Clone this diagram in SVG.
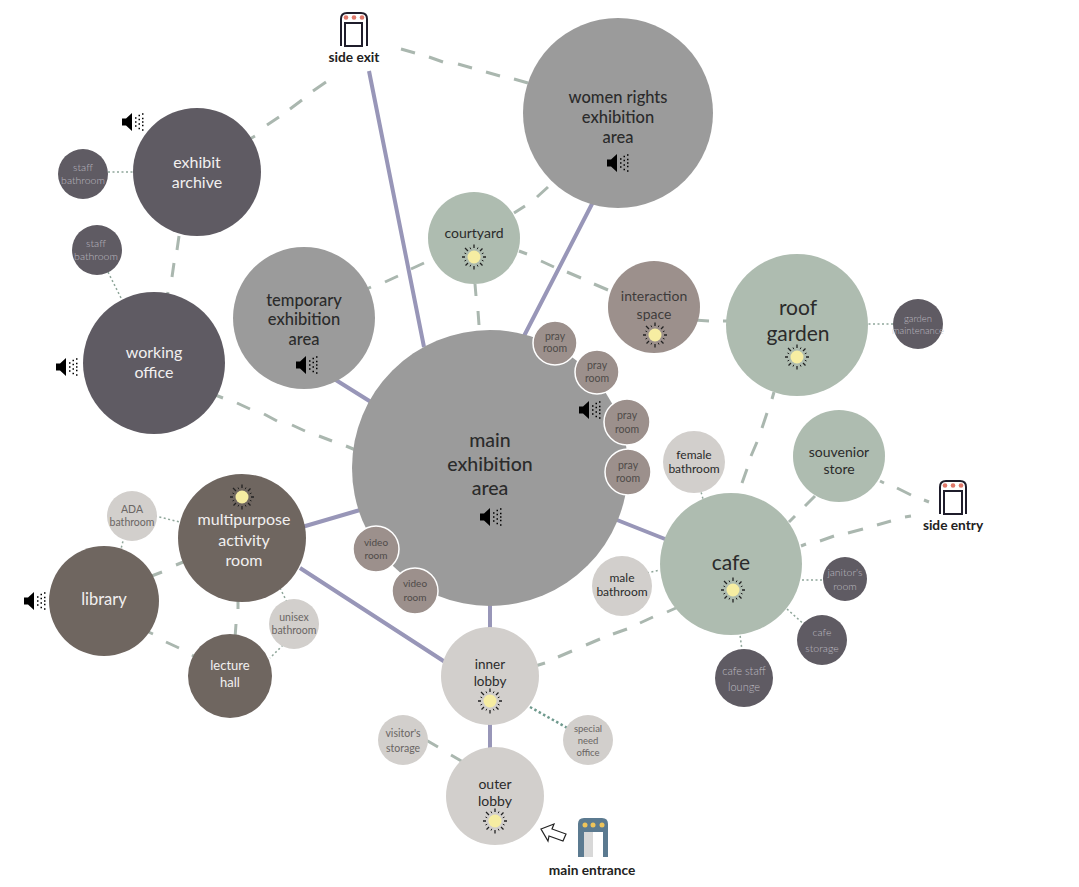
<svg xmlns="http://www.w3.org/2000/svg" width="1079" height="887" viewBox="0 0 1079 887">
<style>
text{font-family:Lato,"Open Sans","Liberation Sans",sans-serif;text-anchor:middle}
.g{fill:#9b9b9b}.s{fill:#aebcb0}.d{fill:#5f5b63}.b{fill:#6f6660}.t{fill:#9c908c}.l{fill:#d2cfcc}
.w{stroke:#fff;stroke-width:1.5}
.dk{fill:#2b2b2b}.lt{fill:#f2f0f0}.sm{font-size:10.5px}
.faint{fill:#bdbac0;font-weight:300}.mut{fill:#6a6664;font-weight:400}.pr{fill:#4f4b49;font-weight:400}
.lb{font-weight:700;font-size:13.700px;fill:#222}
.p{stroke:#9896b8;stroke-width:4;fill:none}
.da{stroke:#aab7af;stroke-width:3;fill:none}
.do{stroke:#8fa69a;stroke-width:1.500;fill:none;stroke-dasharray:2 2.500}
.dt{stroke:#6f9a8e;stroke-width:2.500;fill:none;stroke-dasharray:2.500 2.500}
</style>
<defs>
<g id="sun"><path d="M0-12.500V-9M0 9V12.500M-12 0H-9M9 0H12M-9-9L-6-6M6-6L8.500-8.500M-8.500 8.500L-6 6M6 6L8.500 8.500" stroke="#222" stroke-width="1.300" fill="none"/><path d="M-4-9.500L-3.200-7.800M4-9.500L3.200-7.800M-4 9.500L-3.200 7.800M4 9.500L3.200 7.800M-9.500-4L-7.800-3.200M9.500-4L7.800-3.200M-9.500 4L-7.800 3.200M9.500 4L7.800 3.200" stroke="#222" stroke-width="1" fill="none"/><circle r="6.500" fill="#f6eda2"/></g>
<g id="spk"><path d="M-11-3.500H-7L-1-9V9L-7 3.500H-11Z" fill="#000"/><path d="M2-4h1.500M2 0h1.500M2 4h1.500M5.500-6.500h1.500M5.500-2.500h1.500M5.500 2h1.500M5.500 6.500h1.500M9-8h1.500M9-3.500h1.500M9 0h1.500M9 3.500h1.500M9 8h1.500" stroke="#000" stroke-width="1.500" fill="none"/></g>
</defs>
<g id="connectors">
<path class="p" d="M369 71L424 347M593 202L524 336M331 377L371 402M302 527L360 510M612 518L670 541M490 600V636M300 568L445 662M490 712V754"/>
<path class="da" d="M243 143L255 136M267 125L279 117M290 109L302 100M313 91L326 82M401 49L415 53M429 57L443 62M458 64L472 68M486 72L500 76M514 79L528 83M358 293L371 287M385 282L398 276M411 269L424 263M514 213L525 206M537 197L548 187M475 284L476 296M478 311L479 325M519 251L527 254M541 261L554 267M567 272L581 278M594 284L608 290M694 320L709 321M723 321L727 321M774 392L772 399M767 413L762 428M757 442L751 456M747 469L742 483M815 496L805 506M795 516L789 522M880 481L884 483M897 488L911 495M924 500L929 502M801 546L806 544M820 541L834 536M848 533L863 529M877 525L891 521M905 517L911 516M210 393L223 398M237 403L250 409M264 414L277 421M292 425L305 431M319 436L332 441M346 446L358 451M188 560L176 565M162 572L149 577M140 628L153 634M166 642L179 648M192 655L200 660M238 595L238 609M236 624L235 638M532 667L545 663M558 657L572 651M586 645L600 639M613 634L627 629M640 623L653 617M667 612L676 608M179 236L177 250M174 263L172 277M168 292L165 306M426 740L438 747M451 755L463 762"/>
<path class="do" d="M108 172H133M106 268L124 304M155 516L180 522M124 537L119 557M280 588L288 604M283 645L270 658M700 488L703 499M893 324H866M647 573L660 570M793 580H823M787 609L807 627M739 627L743 658"/>
<path class="dt" d="M530 707L571 730"/>
</g>
<g id="n-main"><circle class="g" cx="490" cy="468" r="138"/><text class="dk" font-size="19.500" font-weight="500"><tspan x="490" y="447">main</tspan><tspan x="490" y="471">exhibition</tspan><tspan x="490" y="495">area</tspan></text><use href="#spk" x="491" y="517"/></g>
<g id="n-women"><circle class="g" cx="618" cy="113" r="95"/><text class="dk" font-size="16.500" font-weight="500"><tspan x="618" y="103">women rights</tspan><tspan x="618" y="123">exhibition</tspan><tspan x="618" y="143">area</tspan></text><use href="#spk" x="618" y="163"/></g>
<g id="n-courtyard"><circle class="s" cx="474" cy="238" r="46"/><text class="dk" x="474" y="238" font-size="14">courtyard</text><use href="#sun" x="474" y="257"/></g>
<g id="n-temporary"><circle class="g" cx="304" cy="318" r="71"/><text class="dk" font-size="16.500" font-weight="500"><tspan x="304" y="306">temporary</tspan><tspan x="304" y="325">exhibition</tspan><tspan x="304" y="345">area</tspan></text><use href="#spk" x="307" y="365"/></g>
<g id="n-archive"><circle class="d" cx="197" cy="172" r="64"/><text class="lt" font-size="16"><tspan x="197" y="168">exhibit</tspan><tspan x="197" y="188">archive</tspan></text><use href="#spk" x="133" y="122"/></g>
<g id="n-staff1"><circle class="d" cx="83" cy="174" r="25"/><text class="faint sm"><tspan x="83" y="171">staff</tspan><tspan x="83" y="184">bathroom</tspan></text></g>
<g id="n-staff2"><circle class="d" cx="97" cy="250" r="25"/><text class="faint sm"><tspan x="96" y="247">staff</tspan><tspan x="96" y="260">bathroom</tspan></text></g>
<g id="n-office"><circle class="d" cx="154" cy="363" r="71"/><text class="lt" font-size="16"><tspan x="154" y="358">working</tspan><tspan x="154" y="378">office</tspan></text><use href="#spk" x="67" y="367"/></g>
<g id="n-interaction"><circle class="t" cx="654" cy="307" r="46"/><text class="dk" font-size="14" fill-opacity=".85"><tspan x="654" y="301">interaction</tspan><tspan x="654" y="319">space</tspan></text><use href="#sun" x="655" y="335"/></g>
<g id="n-roof"><circle class="s" cx="797" cy="325" r="71"/><text class="dk" font-size="21"><tspan x="798" y="315">roof</tspan><tspan x="798" y="341">garden</tspan></text><use href="#sun" x="797" y="357"/></g>
<g id="n-garden"><circle class="d" cx="918" cy="324" r="25"/><text class="faint" font-size="9.500"><tspan x="918" y="322">garden</tspan><tspan x="918" y="334">maintenance</tspan></text></g>
<g id="n-pray1"><circle class="t w" cx="555" cy="343" r="22"/><text class="pr sm"><tspan x="555" y="340">pray</tspan><tspan x="555" y="352">room</tspan></text></g>
<g id="n-pray2"><circle class="t w" cx="597" cy="372" r="22"/><text class="pr sm"><tspan x="597" y="369">pray</tspan><tspan x="597" y="382">room</tspan></text></g>
<g id="n-pray3"><circle class="t w" cx="627" cy="422" r="23"/><text class="pr sm"><tspan x="627" y="419">pray</tspan><tspan x="627" y="433">room</tspan></text><use href="#spk" x="590" y="410"/></g>
<g id="n-pray4"><circle class="t w" cx="628" cy="472" r="23"/><text class="pr sm"><tspan x="628" y="469">pray</tspan><tspan x="628" y="482">room</tspan></text></g>
<g id="n-female"><circle class="l" cx="694" cy="462" r="31"/><text class="dk" font-size="12"><tspan x="694" y="459">female</tspan><tspan x="694" y="473">bathroom</tspan></text></g>
<g id="n-souvenir"><circle class="s" cx="839" cy="456" r="46"/><text class="dk" font-size="14"><tspan x="839" y="457">souvenior</tspan><tspan x="839" y="474">store</tspan></text></g>
<g id="n-cafe"><circle class="s" cx="731" cy="564" r="71"/><text class="dk" x="731" y="570" font-size="21">cafe</text><use href="#sun" x="733" y="590"/></g>
<g id="n-male"><circle class="l" cx="622" cy="586" r="30"/><text class="dk" font-size="12"><tspan x="622" y="582">male</tspan><tspan x="622" y="596">bathroom</tspan></text></g>
<g id="n-janitor"><circle class="d" cx="845" cy="579" r="22"/><text class="faint sm"><tspan x="845" y="576">janitor's</tspan><tspan x="845" y="590">room</tspan></text></g>
<g id="n-storage"><circle class="d" cx="822" cy="640" r="25"/><text class="faint sm"><tspan x="822" y="636">cafe</tspan><tspan x="822" y="652">storage</tspan></text></g>
<g id="n-lounge"><circle class="d" cx="744" cy="678" r="29"/><text class="faint" font-size="11"><tspan x="744" y="675">cafe staff</tspan><tspan x="744" y="691">lounge</tspan></text></g>
<g id="n-multi"><circle class="b" cx="242" cy="538" r="64"/><text class="lt" font-size="16"><tspan x="244" y="525">multipurpose</tspan><tspan x="244" y="546">activity</tspan><tspan x="244" y="566">room</tspan></text><use href="#sun" x="242" y="497"/></g>
<g id="n-ada"><circle class="l" cx="132" cy="516" r="25"/><text class="mut sm"><tspan x="132" y="513">ADA</tspan><tspan x="132" y="526">bathroom</tspan></text></g>
<g id="n-library"><circle class="b" cx="104" cy="601" r="55"/><text class="lt" x="104" y="605" font-size="16.500">library</text><use href="#spk" x="35" y="601"/></g>
<g id="n-lecture"><circle class="b" cx="230" cy="676" r="42"/><text class="lt" font-size="13"><tspan x="230" y="670">lecture</tspan><tspan x="230" y="687">hall</tspan></text></g>
<g id="n-unisex"><circle class="l" cx="294" cy="624" r="25"/><text class="mut sm"><tspan x="294" y="621">unisex</tspan><tspan x="294" y="634">bathroom</tspan></text></g>
<g id="n-video1"><circle class="t w" cx="376" cy="549" r="23"/><text class="pr" font-size="10"><tspan x="376" y="546">video</tspan><tspan x="376" y="559">room</tspan></text></g>
<g id="n-video2"><circle class="t w" cx="415" cy="591" r="23"/><text class="pr" font-size="10"><tspan x="415" y="587">video</tspan><tspan x="415" y="601">room</tspan></text></g>
<g id="n-inner"><circle class="l" cx="490" cy="676" r="49"/><text class="dk" font-size="13.500"><tspan x="490" y="669">inner</tspan><tspan x="490" y="686">lobby</tspan></text><use href="#sun" x="490" y="701"/></g>
<g id="n-outer"><circle class="l" cx="495" cy="796" r="49"/><text class="dk" font-size="14"><tspan x="495" y="789">outer</tspan><tspan x="495" y="806">lobby</tspan></text><use href="#sun" x="495" y="821"/></g>
<g id="n-visitor"><circle class="l" cx="403" cy="740" r="25"/><text class="mut sm"><tspan x="403" y="737">visitor's</tspan><tspan x="403" y="752">storage</tspan></text></g>
<g id="n-special"><circle class="l" cx="588" cy="740" r="25"/><text class="mut" font-size="9.500"><tspan x="588" y="732">special</tspan><tspan x="588" y="744">need</tspan><tspan x="588" y="756">office</tspan></text></g>
<g id="side-exit"><path d="M341 46V19Q341 13 347 13H361Q367 13 367 19V46" fill="none" stroke="#1f1d2b" stroke-width="2"/><circle cx="346" cy="17.500" r="2.300" fill="#e0786a"/><circle cx="354" cy="17.500" r="2.300" fill="#e0786a"/><circle cx="362" cy="17.500" r="2.300" fill="#e0786a"/><rect x="345" y="23" width="17" height="23" fill="#fff" stroke="#1f1d2b" stroke-width="2"/><text class="lb" x="354" y="62">side exit</text></g>
<g id="side-entry"><path d="M940 514V487Q940 481 946 481H960Q966 481 966 487V514" fill="none" stroke="#1f1d2b" stroke-width="2"/><circle cx="945" cy="485.500" r="2.300" fill="#e0786a"/><circle cx="953" cy="485.500" r="2.300" fill="#e0786a"/><circle cx="961" cy="485.500" r="2.300" fill="#e0786a"/><rect x="944" y="491" width="18" height="23" fill="#fff" stroke="#1f1d2b" stroke-width="2"/><text class="lb" x="953" y="530">side entry</text></g>
<g id="main-entrance"><path d="M578 857V824Q578 818 584 818H602Q608 818 608 824V857H603V832H584V857Z" fill="#5b7a90"/><circle cx="585" cy="825" r="2.500" fill="#eec45a"/><circle cx="593" cy="825" r="2.500" fill="#eec45a"/><circle cx="602" cy="825" r="2.500" fill="#eec45a"/><rect x="584" y="832" width="9" height="25" fill="#d8d8d8"/><path d="M541 829L554 824L552 829L566 834L563 841L549 836L548 841Z" fill="#fff" stroke="#222" stroke-width="1.200"/><text class="lb" x="592" y="875">main entrance</text></g>
</svg>
